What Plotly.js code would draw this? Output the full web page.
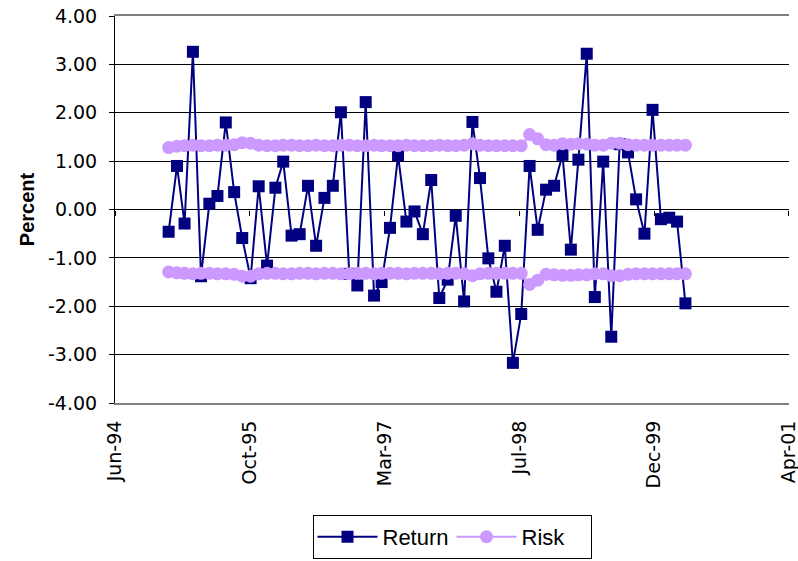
<!DOCTYPE html>
<html>
<head>
<meta charset="utf-8">
<script src="https://cdn.plot.ly/plotly-3.0.1.min.js"></script>
<style>
  html, body { margin: 0; padding: 0; background: #ffffff; }
  #chart { width: 798px; height: 561px; }
</style>
</head>
<body>
<div id="chart"></div>
<script>
// Monthly observations (month-end), Dec 1994 - Mar 2000
const months = [
  '1994-12-31',
  '1995-01-31','1995-02-28','1995-03-31','1995-04-30','1995-05-31','1995-06-30',
  '1995-07-31','1995-08-31','1995-09-30','1995-10-31','1995-11-30','1995-12-31',
  '1996-01-31','1996-02-29','1996-03-31','1996-04-30','1996-05-31','1996-06-30',
  '1996-07-31','1996-08-31','1996-09-30','1996-10-31','1996-11-30','1996-12-31',
  '1997-01-31','1997-02-28','1997-03-31','1997-04-30','1997-05-31','1997-06-30',
  '1997-07-31','1997-08-31','1997-09-30','1997-10-31','1997-11-30','1997-12-31',
  '1998-01-31','1998-02-28','1998-03-31','1998-04-30','1998-05-31','1998-06-30',
  '1998-07-31','1998-08-31','1998-09-30','1998-10-31','1998-11-30','1998-12-31',
  '1999-01-31','1999-02-28','1999-03-31','1999-04-30','1999-05-31','1999-06-30',
  '1999-07-31','1999-08-31','1999-09-30','1999-10-31','1999-11-30','1999-12-31',
  '2000-01-31','2000-02-29','2000-03-31'
];

// Monthly return, percent
const returns = [
  -0.46, 0.90, -0.29, 3.26, -1.38, 0.12, 0.28, 1.80,
   0.36, -0.59, -1.42, 0.48, -1.16, 0.45, 0.99, -0.54,
  -0.51, 0.49, -0.75, 0.24, 0.49, 2.01, -1.33, -1.57,
   2.22, -1.78, -1.50, -0.38, 1.12, -0.25, -0.04, -0.51,
   0.61, -1.83, -1.45, -0.13, -1.90, 1.81, 0.65, -1.01,
  -1.70, -0.75, -3.17, -2.16, 0.90, -0.42, 0.41, 0.49,
   1.13, -0.83, 1.03, 3.22, -1.81, 0.99, -2.63, 1.35,
   1.18, 0.21, -0.50, 2.06, -0.20, -0.17, -0.25, -1.94
];

// Risk band, upper and lower bounds, percent
const riskUpper = [
  1.28, 1.31, 1.32, 1.33, 1.32, 1.32, 1.33, 1.33,
  1.34, 1.38, 1.37, 1.33, 1.32, 1.32, 1.33, 1.33,
  1.32, 1.32, 1.33, 1.32, 1.32, 1.33, 1.33, 1.32,
  1.32, 1.33, 1.32, 1.32, 1.32, 1.33, 1.32, 1.32,
  1.32, 1.33, 1.32, 1.32, 1.33, 1.36, 1.33, 1.32,
  1.32, 1.32, 1.32, 1.32, 1.55, 1.46, 1.34, 1.33,
  1.36, 1.35, 1.36, 1.35, 1.33, 1.33, 1.37, 1.37,
  1.34, 1.33, 1.33, 1.33, 1.33, 1.33, 1.33, 1.33
];
const riskLower = [
  -1.29, -1.31, -1.32, -1.33, -1.32, -1.32, -1.33, -1.33,
  -1.34, -1.38, -1.38, -1.33, -1.32, -1.32, -1.33, -1.33,
  -1.32, -1.32, -1.33, -1.32, -1.32, -1.33, -1.33, -1.32,
  -1.32, -1.33, -1.32, -1.32, -1.32, -1.33, -1.32, -1.32,
  -1.32, -1.33, -1.32, -1.32, -1.33, -1.37, -1.33, -1.32,
  -1.32, -1.32, -1.32, -1.32, -1.55, -1.46, -1.34, -1.35,
  -1.36, -1.36, -1.35, -1.35, -1.33, -1.33, -1.37, -1.37,
  -1.34, -1.33, -1.33, -1.33, -1.33, -1.33, -1.33, -1.33
];

// Value axis ticks (hyphen minus as printed)
const yTickValues = [-4, -3, -2, -1, 0, 1, 2, 3, 4];
const yTickLabels = ['-4.00', '-3.00', '-2.00', '-1.00', '0.00', '1.00', '2.00', '3.00', '4.00'];

// Date axis: ticks every 500 days from mid-June 1994
const dateStart = '1994-06-15';
const dateEnd = '2001-04-19 06:00';
const dateStepMs = 500 * 86400000;

const navy = '#000080';
const lilac = '#CC99FF';
const tickFont = { family: 'DejaVu Sans', size: 19, color: '#000000' };

const traces = [
  {
    x: months, y: returns, name: 'Return', type: 'scatter', mode: 'lines+markers',
    line: { color: navy, width: 2 },
    marker: { symbol: 'square', size: 12, color: navy }
  },
  {
    x: months, y: riskUpper, name: 'Risk', type: 'scatter', mode: 'lines+markers',
    legendgroup: 'risk',
    line: { color: lilac, width: 2 },
    marker: { symbol: 'circle', size: 13, color: lilac }
  },
  {
    x: months, y: riskLower, name: 'Risk', type: 'scatter', mode: 'lines+markers',
    legendgroup: 'risk', showlegend: false,
    line: { color: lilac, width: 2 },
    marker: { symbol: 'circle', size: 13, color: lilac }
  },
  {
    // carries the tick marks along the zero line
    x: [months[0]], y: [null], xaxis: 'x2', type: 'scatter', mode: 'markers',
    showlegend: false, hoverinfo: 'skip'
  }
];

const layout = {
  width: 798, height: 561,
  margin: { l: 115, r: 9, t: 16, b: 158, autoexpand: false },
  paper_bgcolor: '#ffffff', plot_bgcolor: '#ffffff',
  showlegend: true,
  xaxis: {
    type: 'date', range: [dateStart, dateEnd], autorange: false,
    tickmode: 'linear', tick0: dateStart, dtick: dateStepMs,
    tickformat: '%b-%y', tickangle: -90, tickfont: tickFont,
    ticks: '', ticklabelstandoff: 8, ticklabeloverflow: 'allow',
    showgrid: false, zeroline: false,
    showline: true, linecolor: '#808080', linewidth: 2, mirror: true
  },
  xaxis2: {
    type: 'date', range: [dateStart, dateEnd], autorange: false,
    overlaying: 'x', anchor: 'free', position: 0.5, side: 'bottom',
    tickmode: 'linear', tick0: dateStart, dtick: dateStepMs,
    ticks: 'outside', ticklen: 5, tickwidth: 1, tickcolor: '#000000',
    showticklabels: false, showgrid: false, zeroline: false, showline: false
  },
  yaxis: {
    range: [-4, 4], autorange: false,
    tickmode: 'array', tickvals: yTickValues, ticktext: yTickLabels,
    tickfont: tickFont, ticks: 'outside', ticklen: 5, tickwidth: 1, tickcolor: '#000000',
    ticklabelstandoff: 8,
    showgrid: true, gridcolor: '#000000', gridwidth: 1,
    zeroline: true, zerolinecolor: '#000000', zerolinewidth: 1,
    showline: true, linecolor: '#000000', linewidth: 1,
    title: {
      text: '<b>Percent</b>', standoff: 8,
      font: { family: 'Liberation Sans', size: 20, color: '#000000' }
    }
  },
  legend: {
    orientation: 'h', x: 0.5, xanchor: 'center', y: -0.289, yanchor: 'top',
    bgcolor: '#ffffff', bordercolor: '#000000', borderwidth: 1,
    itemwidth: 60, entrywidth: 64,
    font: { family: 'Liberation Sans', size: 22, color: '#000000' }
  }
};

Plotly.newPlot('chart', traces, layout, { displayModeBar: false, staticPlot: true });
</script>
</body>
</html>
